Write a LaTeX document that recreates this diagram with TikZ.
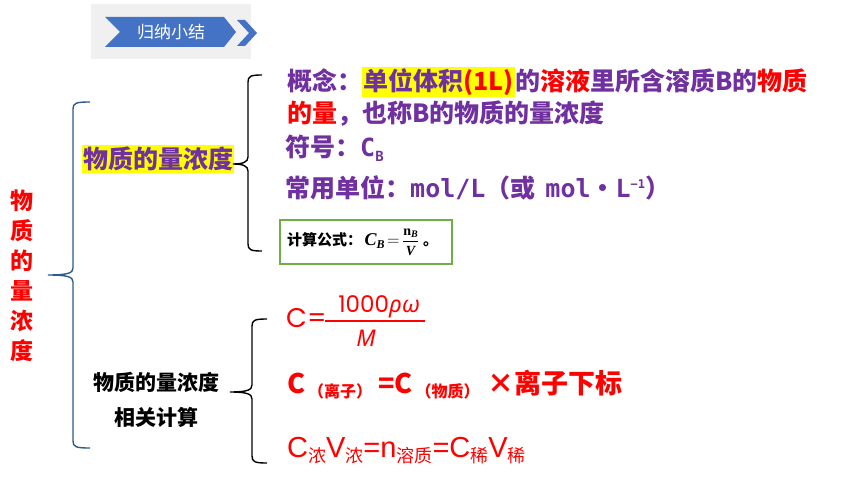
\documentclass[tikz,border=0pt]{standalone}
\usepackage{amsmath}
\usepackage{fontspec}
\newfontfamily\cjk{Noto Sans CJK SC}
\newfontfamily\mono{DejaVu Sans Mono}
\newfontfamily\pop{Poppins}
\newfontfamily\nsans{Noto Sans}
\newfontfamily\lsans{Liberation Sans}
\newfontfamily\lserif{Liberation Serif}
\definecolor{purp}{HTML}{7030A0}
\definecolor{myred}{HTML}{FF0000}
\definecolor{hdblue}{HTML}{4472C4}
\definecolor{brblue}{HTML}{2E5C8A}
\definecolor{grn}{HTML}{70AD47}
\definecolor{hl}{HTML}{FFFF00}
\definecolor{hdgray}{HTML}{F0F0F0}
\newcommand\mybrace[7]{%
  \draw[#7] (#3,#4) .. controls (#2+3,#4) and (#2,#4+1) .. (#2,#4+7) -- (#2,#5-7)
    .. controls (#2,#5-2) and (#2-5,#5) .. (#1,#5)
    .. controls (#2-5,#5) and (#2,#5+2) .. (#2,#5+7) -- (#2,#6-7)
    .. controls (#2,#6-1) and (#2+3,#6) .. (#3,#6);}
\newcommand\lowsub[1]{\raisebox{-5pt}{\cjk\fontsize{18}{18}\selectfont #1}}
\begin{document}
\begin{tikzpicture}[x=1pt,y=-1pt,
  txt/.style={inner sep=0pt, anchor=west},
  purpline/.style={txt, text=purp, font=\cjk\bfseries\fontsize{25}{30}\selectfont},
  redbig/.style={inner sep=0pt, anchor=base west, text=myred},
  blackbrace/.style={black, line width=1.4pt},
  bluebrace/.style={brblue, line width=1.4pt}]
\useasboundingbox[fill=white] (0,0) rectangle (860,484);
% header
\fill[hdgray] (91,4) rectangle (251,59);
\fill[hdblue] (105,17) -- (224,17) -- (236,32) -- (224,47) -- (105,47) -- (120,32) -- cycle;
\fill[hdblue] (237,20) -- (245,20) -- (257,33) -- (245,46) -- (237,46) -- (249,33) -- cycle;
\node[text=white, font=\cjk\fontsize{17}{17}\selectfont, inner sep=0pt] (hd) at (171,32) {归纳小结};
% title
\node[text=myred, font=\cjk\bfseries\fontsize{23}{30}\selectfont, align=center, inner sep=0pt] (title) at (22,276) {物\\质\\的\\量\\浓\\度};
\mybrace{48}{73}{90}{102}{275}{448}{bluebrace}
% branch 1
\node[txt, fill=hl, text=purp, font=\cjk\bfseries\fontsize{25}{30}\selectfont, inner xsep=1pt, inner ysep=2pt, anchor=west] (b1) at (82,159) {物质的量浓度};
\mybrace{233}{248}{262}{75}{164}{251}{blackbrace}
\node[purpline] (l1) at (287,82) {概念：{\fboxsep=1.5pt\colorbox{hl}{单位体积{\color{myred}(1L)}}}的{\color{myred}溶液}里所含溶质B的{\color{myred}物质}};
\node[purpline] (l2) at (287,114) {{\color{myred}的量}，也称B的物质的量浓度};
\node[purpline, anchor=base west] (l3) at (285,157) {符号：{\mono C}\raisebox{-5pt}{\mono\fontsize{14}{14}\selectfont B}};
\node[purpline, anchor=base west] (l4) at (285,197) {常用单位：{\mono mol/L}（或\hspace{10pt}{\mono mol}·{\mono L}\raisebox{9pt}{\mono\fontsize{12}{12}\selectfont −1}）};
\node[draw=grn, line width=2pt, minimum width=172pt, minimum height=44pt, anchor=north west, inner sep=0pt] (gb) at (279,219) {};
\node[txt, font=\cjk\bfseries\fontsize{15}{18}\selectfont] (gbt) at (287,242) {计算公式：\,{\lserif\bfseries\itshape\fontsize{18}{18}\selectfont C\raisebox{-3pt}{\fontsize{12}{12}\selectfont B}}\,{\fontsize{16}{16}\selectfont$=$}\,$\dfrac{\text{\lserif\fontsize{14}{14}\selectfont n\raisebox{-2pt}{\fontsize{10}{10}\selectfont\itshape B}}}{\text{\lserif\bfseries\itshape\fontsize{14}{14}\selectfont V}}$\;。};
% branch 2
\node[font=\cjk\bfseries\fontsize{21}{35}\selectfont, align=center, inner sep=0pt] (b2) at (156,400) {物质的量浓度\\相关计算};
\mybrace{230}{252}{267}{319}{392}{463}{blackbrace}
\node[txt, text=myred, font=\pop\fontsize{27}{27}\selectfont] (ceq) at (286,318) {C=};
\node[inner sep=0pt, text=myred, font=\fontsize{23}{23}\selectfont] (num) at (379,307) {{\pop 1000}{\nsans\itshape ρω}};
\node[inner sep=0pt, text=myred, font=\nsans\itshape\fontsize{23}{23}\selectfont] (den) at (366,338) {M};
\draw[myred, line width=1.3pt] (325,321) -- (425,321);
\node[redbig, font=\cjk\bfseries\fontsize{27}{27}\selectfont] (rb) at (287,393) {C\hspace{3pt}\raisebox{-4pt}{\fontsize{16}{16}\selectfont （离子）}\hspace{6pt}=C\hspace{3pt}\raisebox{-4pt}{\fontsize{16}{16}\selectfont （物质）}\hspace{8pt}×离子下标};
\node[redbig, font=\lsans\fontsize{29}{29}\selectfont] (rc) at (287,457) {C\lowsub{浓}V\lowsub{浓}=n\lowsub{溶质}=C\lowsub{稀}V\lowsub{稀}};
\end{tikzpicture}
\end{document}
